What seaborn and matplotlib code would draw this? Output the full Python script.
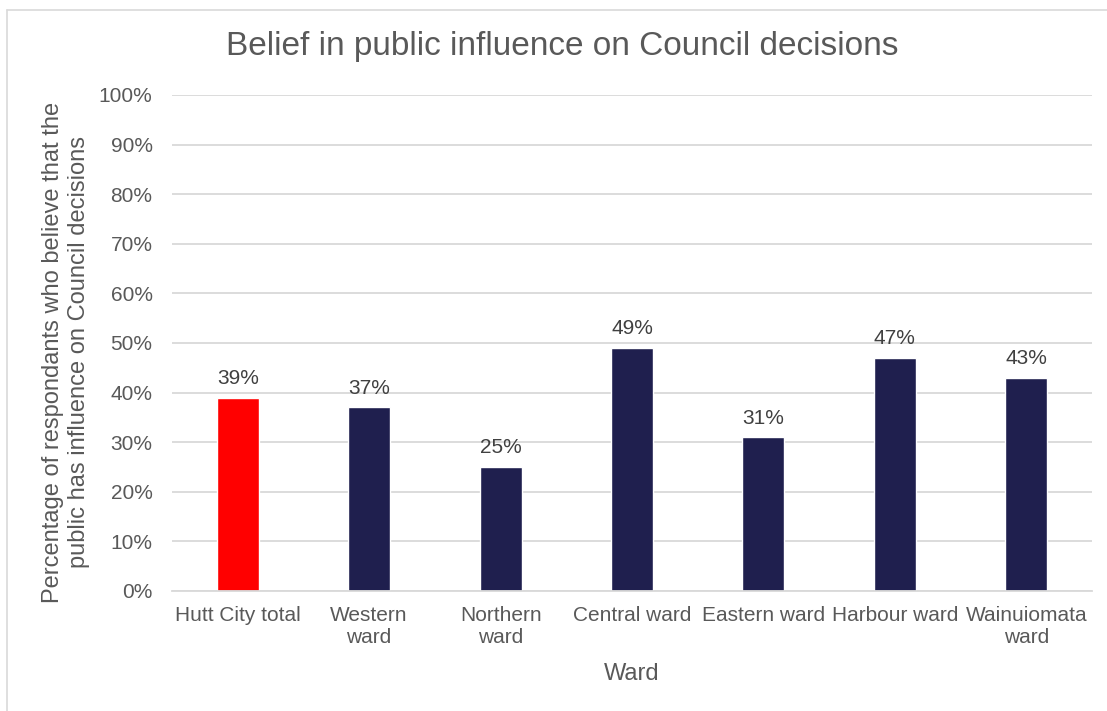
import matplotlib
matplotlib.use("Agg")
import matplotlib.pyplot as plt
from matplotlib.lines import Line2D
from matplotlib.ticker import MultipleLocator, PercentFormatter
import seaborn as sns
import pandas as pd

# Survey results by ward
wards = ["Hutt City total", "Western\nward", "Northern\nward", "Central ward",
         "Eastern ward", "Harbour ward", "Wainuiomata\nward"]
influence_pct = [39, 37, 25, 49, 31, 47, 43]
bar_colors = ["#FF0000", "#1F1F4E", "#1F1F4E", "#1F1F4E", "#1F1F4E", "#1F1F4E", "#1F1F4E"]

sns.set_theme(style="white")
plt.rcParams["font.family"] = ["Liberation Sans", "DejaVu Sans"]

TEXT = "#595959"
GRID = "#D9D9D9"

df = pd.DataFrame({"ward": wards, "pct": influence_pct})

fig = plt.figure(figsize=(11.07, 7.11), dpi=100)
W, H = 1107, 711
ax_left, ax_right, ax_top, ax_bottom = 172, 1092, 95, 591
ax = fig.add_axes([ax_left / W, 1 - ax_bottom / H,
                   (ax_right - ax_left) / W, (ax_bottom - ax_top) / H])

sns.barplot(data=df, x="ward", y="pct", hue="ward", palette=bar_colors,
            width=0.32, legend=False, ax=ax, saturation=1)

ax.set_ylim(0, 100)
ax.set_xlim(-0.5, len(wards) - 0.5)
ax.yaxis.set_major_locator(MultipleLocator(10))
ax.yaxis.set_major_formatter(PercentFormatter(decimals=0))
ax.grid(axis="y", color=GRID, linewidth=1.3)
ax.set_axisbelow(True)
for side in ["top", "right", "left"]:
    ax.spines[side].set_visible(False)
ax.spines["bottom"].set_color(GRID)
ax.spines["bottom"].set_linewidth(1.3)
ax.tick_params(axis="both", length=0, labelsize=15, labelcolor=TEXT)
ax.tick_params(axis="y", pad=14)
ax.tick_params(axis="x", pad=11)

for container in ax.containers:
    ax.bar_label(container, labels=[f"{v:.0f}%" for v in container.datavalues],
                 padding=7, fontsize=15, color="#404040")

ax.set_xlabel("Ward", fontsize=17, color=TEXT, va="center")
ax.xaxis.set_label_coords(0.5, -(674 - ax_bottom) / (ax_bottom - ax_top))
ax.set_ylabel("Percentage of respondants who believe that the\npublic has influence on Council decisions",
              fontsize=17, color=TEXT, linespacing=1.2, va="center")
ax.yaxis.set_label_coords(-(ax_left - 66) / (ax_right - ax_left),
                          (ax_bottom - 352) / (ax_bottom - ax_top))

fig.text(562 / W, 1 - 46 / H, "Belief in public influence on Council decisions",
         ha="center", va="center", fontsize=24, color=TEXT)

# frame edges of the chart area
fig.add_artist(Line2D([6.5 / W, 6.5 / W], [0, 1 - 9.5 / H], color=GRID, linewidth=1.2))
fig.add_artist(Line2D([6.5 / W, 1], [1 - 9.5 / H, 1 - 9.5 / H], color=GRID, linewidth=1.2))

fig.savefig("out.png", dpi=100, facecolor="white")
